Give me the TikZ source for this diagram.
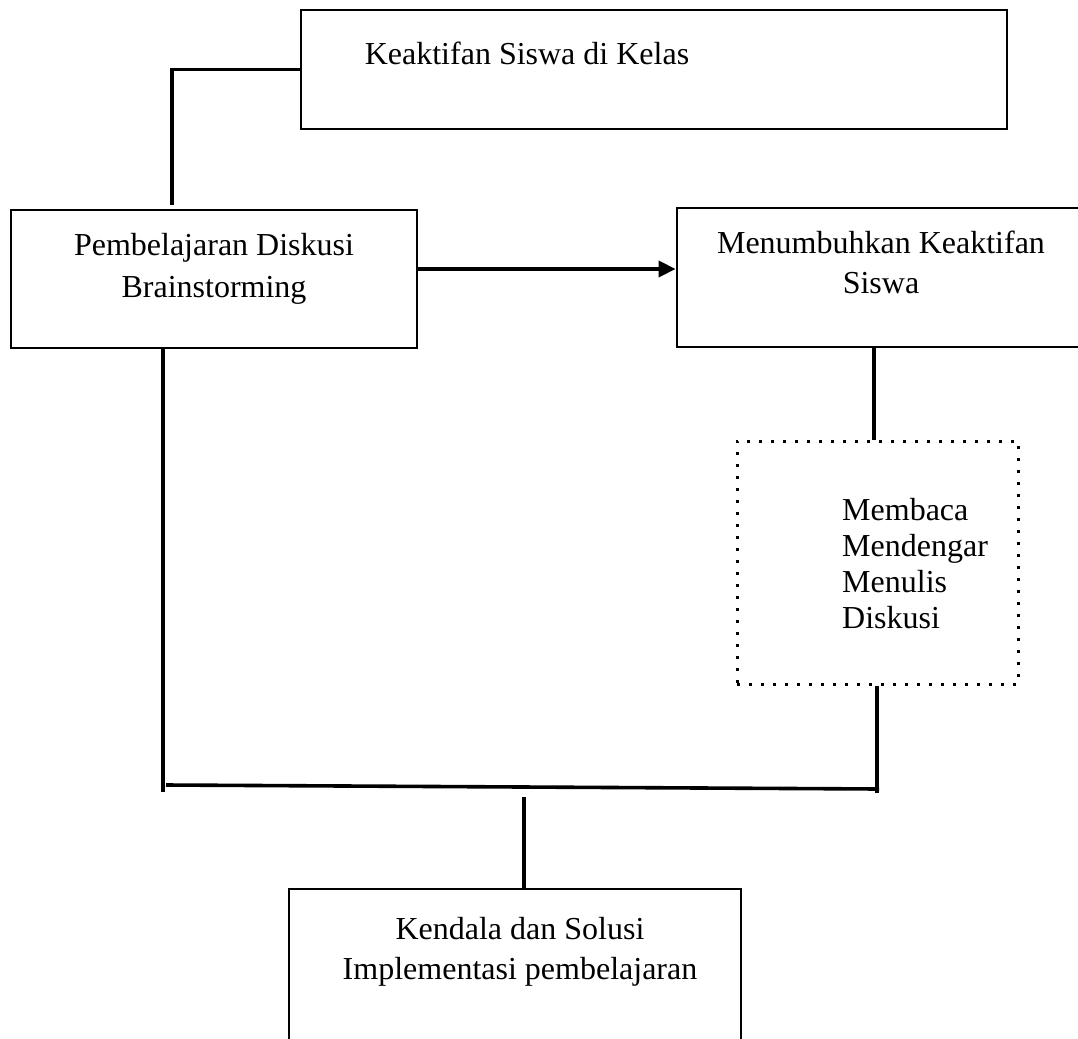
\documentclass[tikz,border=0pt]{standalone}
\usepackage{fontspec}
\setmainfont{Liberation Serif}
\usetikzlibrary{arrows.meta}
\begin{document}
\begin{tikzpicture}[x=1pt,y=-1pt,
  box/.style={draw, line width=2.8pt, rectangle, inner sep=0pt},
  dotbox/.style={draw, line width=3pt, dash pattern=on 3pt off 9pt, rectangle, inner sep=0pt},
  link/.style={line width=3.6pt},
  arrowlink/.style={link, -{Triangle[length=17pt,width=16pt]}},
  lbl/.style={font=\fontsize{32}{40}\selectfont, inner sep=0pt, anchor=base},
]
\useasboundingbox (0,0) rectangle (1078,1038);
\clip (0,0) rectangle (1078,1038);

% boxes
\node[box, minimum width=706pt, minimum height=119pt] (top) at (654,69.5) {};
\node[box, minimum width=406pt, minimum height=138pt] (left) at (214,279) {};
\node[box, minimum width=423pt, minimum height=139pt] (right) at (888.5,277.5) {};
\node[dotbox, minimum width=281pt, minimum height=243pt] (dotted) at (877.5,562.5) {};
\node[box, minimum width=452pt, minimum height=181pt] (bottom) at (515,979.5) {};

% box texts
\node[lbl] (kelas) at (527,65) {Keaktifan Siswa di Kelas};
\node[lbl] (pd1) at (214,255) {Pembelajaran Diskusi};
\node[lbl] (pd2) at (214,297) {Brainstorming};
\node[lbl] (mk1) at (881,253) {Menumbuhkan Keaktifan};
\node[lbl] (mk2) at (881,293) {Siswa};
\node[lbl, anchor=base west] (ak1) at (842,520) {Membaca};
\node[lbl, anchor=base west] (ak2) at (842,556) {Mendengar};
\node[lbl, anchor=base west] (ak3) at (842,592) {Menulis};
\node[lbl, anchor=base west] (ak4) at (842,628) {Diskusi};
\node[lbl] (kd1) at (520,939) {Kendala dan Solusi};
\node[lbl] (kd2) at (520,979) {Implementasi pembelajaran};

% connector points
\coordinate (c1) at (172,205);
\coordinate (arow) at (0,269);
\coordinate (rx) at (874,0);
\coordinate (jr) at (877,793);
\coordinate (jl) at (163,792);
\coordinate (h1) at (166,785);
\coordinate (h2) at (879,789);
\coordinate (m1) at (524,797);

% connectors
\draw[link] (top.west) -| (c1);
\draw[arrowlink] (left.east |- arow) -- (right.west |- arow);
\draw[link] (right.south -| rx) -- (dotted.north -| rx);
\draw[link] (dotted.south -| jr) -- (jr);
\draw[link] (left.south -| jl) -- (jl);
\draw[link] (h1) -- (h2);
\draw[link] (m1) -- (bottom.north -| m1);
\end{tikzpicture}
\end{document}
